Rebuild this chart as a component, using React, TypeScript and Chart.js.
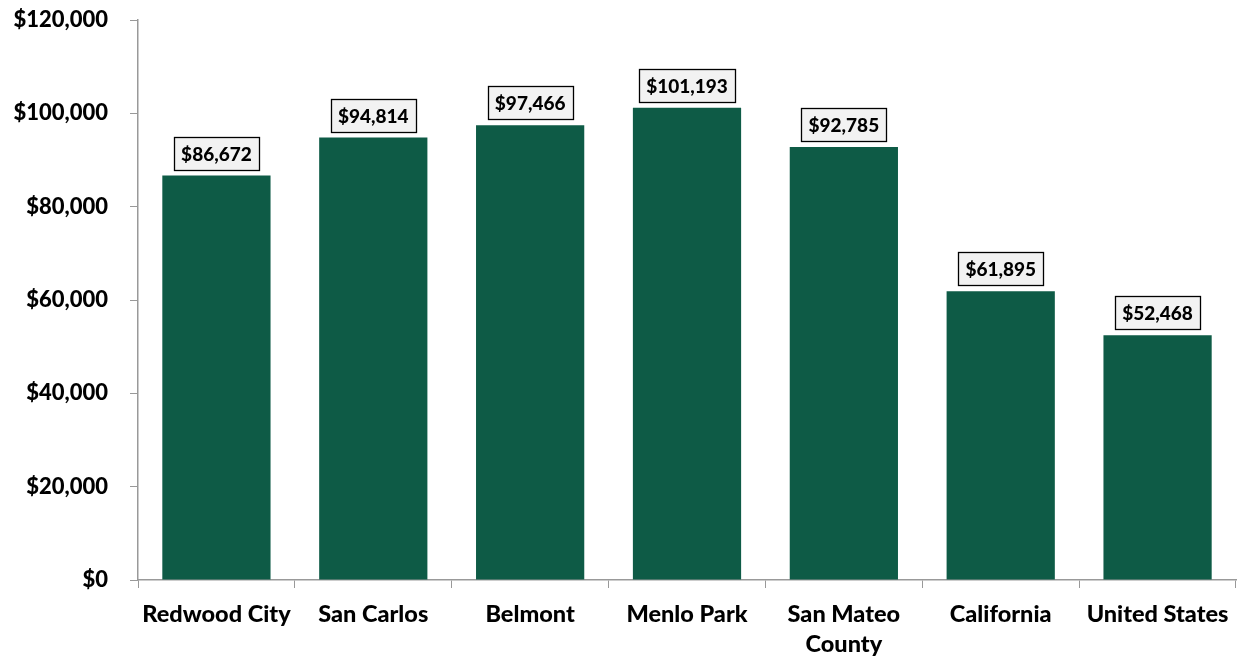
import React, { useEffect, useRef } from "react";
import { Chart, registerables } from "chart.js";

Chart.register(...registerables);

const categories: (string | string[])[] = [
  "Redwood City",
  "San Carlos",
  "Belmont",
  "Menlo Park",
  ["San Mateo", "County"],
  "California",
  "United States",
];
const incomeValues = [86672, 94814, 97466, 101193, 92785, 61895, 52468];
const yTickValues = [0, 20000, 40000, 60000, 80000, 100000, 120000];

const fmt = (v: number) => "$" + v.toLocaleString("en-US");

const labelBoxPlugin = {
  id: "labelBoxes",
  afterDatasetsDraw(chart: any) {
    const ctx = chart.ctx;
    const meta = chart.getDatasetMeta(0);
    ctx.save();
    ctx.font = "900 19px Lato";
    ctx.textAlign = "center";
    ctx.textBaseline = "middle";
    meta.data.forEach((bar: any, i: number) => {
      const text = fmt(incomeValues[i]);
      const w = Math.round(ctx.measureText(text).width + 14);
      const h = 33;
      const cx = bar.x;
      const bottom = bar.y - 6;
      const x0 = Math.round(cx - w / 2) + 0.5;
      const y0 = Math.round(bottom - h) + 0.5;
      ctx.fillStyle = "#F2F2F2";
      ctx.fillRect(x0, y0, w, h);
      ctx.strokeStyle = "#000000";
      ctx.lineWidth = 1.3;
      ctx.strokeRect(x0, y0, w, h);
      ctx.fillStyle = "#000000";
      ctx.fillText(text, cx, y0 + h / 2 + 1);
    });
    ctx.restore();
  },
};

export default function App() {
  const ref = useRef<HTMLCanvasElement | null>(null);
  useEffect(() => {
    document.body.style.margin = "0";
    const canvas = ref.current;
    if (!canvas) return;
    const chart = new Chart(canvas, {
      type: "bar",
      data: {
        labels: categories,
        datasets: [
          {
            data: incomeValues,
            backgroundColor: "#0E5B46",
            borderWidth: 0,
            barPercentage: 0.69,
            categoryPercentage: 1,
          },
        ],
      },
      options: {
        animation: false,
        responsive: false,
        maintainAspectRatio: false,
        layout: { padding: { left: 0, top: 20, right: 8, bottom: 0 } },
        plugins: {
          legend: { display: false },
          tooltip: { enabled: false },
        },
        scales: {
          x: {
            offset: true,
            grid: {
              offset: true,
              drawOnChartArea: false,
              drawTicks: true,
              tickLength: 8,
              color: "#999999",
            },
            border: { color: "#999999", width: 1.5 },
            ticks: {
              color: "#000000",
              font: { family: "Lato", size: 23.5, weight: "900", lineHeight: 1.3 },
              padding: 11,
              maxRotation: 0,
              autoSkip: false,
            },
            afterFit(scale: any) {
              scale.height = 82;
              scale.paddingLeft = 0;
              scale.paddingRight = 0;
            },
          },
          y: {
            min: 0,
            max: 120000,
            afterBuildTicks(scale: any) {
              scale.ticks = yTickValues.map((v) => ({ value: v }));
            },
            grid: {
              drawOnChartArea: false,
              drawTicks: true,
              tickLength: 8,
              color: "#999999",
            },
            border: { color: "#999999", width: 1.5 },
            ticks: {
              color: "#000000",
              font: { family: "Lato", size: 22, weight: "900" },
              padding: 22,
              callback: (v: any) => fmt(Number(v)),
            },
            afterFit(scale: any) {
              scale.width = 138;
              scale.paddingTop = 0;
              scale.paddingBottom = 0;
            },
          },
        },
      },
      plugins: [labelBoxPlugin],
    } as any);
    return () => chart.destroy();
  }, []);
  return (
    <div style={{ width: 1244, height: 662 }}>
      <canvas ref={ref} width={1244} height={662} style={{ display: "block" }} />
    </div>
  );
}
